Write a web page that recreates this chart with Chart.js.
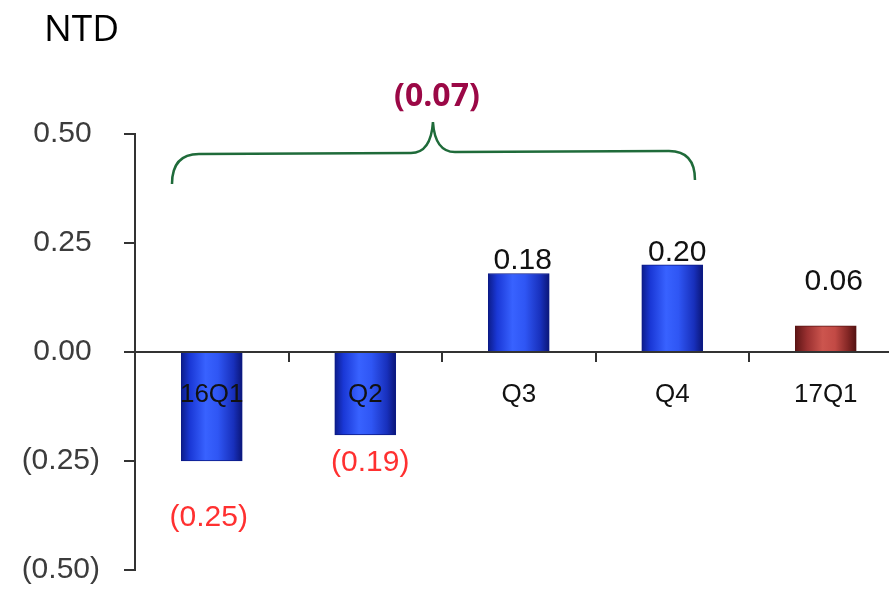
<!DOCTYPE html>
<html>
<head>
<meta charset="utf-8">
<script src="https://cdn.jsdelivr.net/npm/chart.js@4"></script>
<style>
  body { margin: 0; background: #fff; }
  #wrap { width: 889px; height: 592px; }
</style>
</head>
<body>
<div id="wrap"><canvas id="eps" width="889" height="592"></canvas></div>
<script>
// quarterly EPS (NTD)
const quarters = ['16Q1', 'Q2', 'Q3', 'Q4', '17Q1'];
const eps = [-0.25, -0.19, 0.18, 0.20, 0.06];
const epsLabels = ['(0.25)', '(0.19)', '0.18', '0.20', '0.06'];
const yTicks = [-0.5, -0.25, 0, 0.25, 0.5];
const totalLabel = '(0.07)';
const unitLabel = 'NTD';

function fmtTick(v) {
    if (v < 0) return '(' + Math.abs(v).toFixed(2) + ')';
    return v.toFixed(2) + ' ';
}

function barFill(c) {
    const chart = c.chart;
    const xs = chart.scales.x;
    const red = c.dataIndex === quarters.length - 1;
    if (!xs || !chart.chartArea) return red ? '#b6403c' : '#2546e8';
    const cx = xs.getPixelForValue(c.dataIndex);
    const g = chart.ctx.createLinearGradient(cx - 31, 0, cx + 31, 0);
    if (red) {
        g.addColorStop(0, '#5a1414');
        g.addColorStop(0.2, '#9a3030');
        g.addColorStop(0.45, '#cc554e');
        g.addColorStop(0.65, '#c24a45');
        g.addColorStop(0.85, '#862826');
        g.addColorStop(1, '#501010');
    } else {
        g.addColorStop(0, '#0b1a86');
        g.addColorStop(0.15, '#1a38d6');
        g.addColorStop(0.4, '#3862ff');
        g.addColorStop(0.6, '#2f56f4');
        g.addColorStop(0.85, '#1830bc');
        g.addColorStop(1, '#0a1474');
    }
    return g;
}

const annotations = {
    id: 'annotations',
    afterDatasetsDraw(chart, args, opts) {
        const ctx = chart.ctx;
        const xs = chart.scales.x, ys = chart.scales.y;
        ctx.save();
        // value labels
        ctx.font = '30px "Liberation Sans", Arial, sans-serif';
        ctx.textAlign = 'center';
        ctx.textBaseline = 'alphabetic';
        eps.forEach((v, i) => {
            const x = xs.getPixelForValue(i) + opts.dx[i];
            const y = ys.getPixelForValue(v) + opts.dy[i];
            ctx.fillStyle = v < 0 ? '#ff3030' : '#111';
            ctx.fillText(epsLabels[i], x, y);
        });
        ctx.restore();
    },
    afterDraw(chart) {
        const ctx = chart.ctx;
        const xs = chart.scales.x;
        ctx.save();
        ctx.fillStyle = '#000';
        ctx.font = '37px "Open Sans", sans-serif';
        ctx.textBaseline = 'alphabetic';
        ctx.textAlign = 'left';
        ctx.fillText(unitLabel, 44, 41);

        // brace over 16Q1..Q4
        const l = xs.getPixelForValue(-0.259);
        const r = xs.getPixelForValue(3.148);
        const m = xs.getPixelForValue(1.441);
        ctx.strokeStyle = '#1f6b3a';
        ctx.lineWidth = 2.5;
        ctx.beginPath();
        ctx.moveTo(l, 184);
        ctx.quadraticCurveTo(l, 154, l + 27, 154);
        ctx.lineTo(m - 22, 153);
        ctx.quadraticCurveTo(m - 2, 153, m, 122);
        ctx.quadraticCurveTo(m + 2, 152, m + 22, 152);
        ctx.lineTo(r - 26, 151);
        ctx.quadraticCurveTo(r, 151, r, 180);
        ctx.stroke();

        ctx.fillStyle = '#9b0846';
        ctx.font = 'bold 32px "Open Sans", sans-serif';
        ctx.textAlign = 'center';
        ctx.fillText(totalLabel, m + 4, 106);
        ctx.restore();
    }
};

new Chart(document.getElementById('eps'), {
    type: 'bar',
    data: {
        datasets: [{
            data: quarters.map((q, i) => ({ x: i, y: eps[i] })),
            backgroundColor: barFill,
            borderColor: c => c.dataIndex === quarters.length - 1 ? '#5a1414' : '#0b1a86',
            borderWidth: 1,
            barThickness: 61
        }]
    },
    options: {
        responsive: false,
        animation: false,
        layout: { padding: { top: 134, bottom: 22, left: 0, right: 0 } },
        plugins: {
            legend: { display: false },
            tooltip: { enabled: false },
            annotations: { dx: [-3, 5, 4, 5, 8], dy: [65, 36, -5, -4, -36] }
        },
        scales: {
            x: {
                type: 'linear',
                position: { y: 0 },
                offset: false,
                min: -0.5,
                max: 4.412,
                afterBuildTicks: s => {
                    s.ticks = [0, 0.5, 1, 1.5, 2, 2.5, 3, 3.5, 4].map(v => ({ value: v }));
                },
                afterFit: s => {
                    s.paddingLeft = 0;
                    s.paddingRight = 0;
                },
                border: { display: true, color: '#333', width: 2, z: 1 },
                grid: {
                    offset: false,
                    drawOnChartArea: false,
                    drawTicks: true,
                    tickLength: 9,
                    lineWidth: 2,
                    tickColor: c => (c.tick && Number.isInteger(c.tick.value)) ? 'rgba(0,0,0,0)' : '#333'
                },
                ticks: {
                    z: 1,
                    autoSkip: false,
                    maxRotation: 0,
                    padding: 18,
                    color: '#111',
                    font: { family: '"Liberation Sans", Arial, sans-serif', size: 26 },
                    callback: v => Number.isInteger(v) ? quarters[v] : ''
                }
            },
            y: {
                min: -0.5,
                max: 0.5,
                afterBuildTicks: s => { s.ticks = yTicks.map(v => ({ value: v })); },
                afterFit: s => {
                    s.width = 135;
                    s.paddingTop = 0;
                    s.paddingBottom = 0;
                },
                border: { display: true, color: '#333', width: 2 },
                grid: {
                    drawOnChartArea: false,
                    tickLength: 11,
                    lineWidth: 2,
                    color: '#333'
                },
                ticks: {
                    padding: 24,
                    color: '#3c3c3c',
                    font: { family: '"Liberation Sans", Arial, sans-serif', size: 30 },
                    callback: v => fmtTick(v)
                }
            }
        }
    },
    plugins: [annotations]
});
</script>
</body>
</html>
